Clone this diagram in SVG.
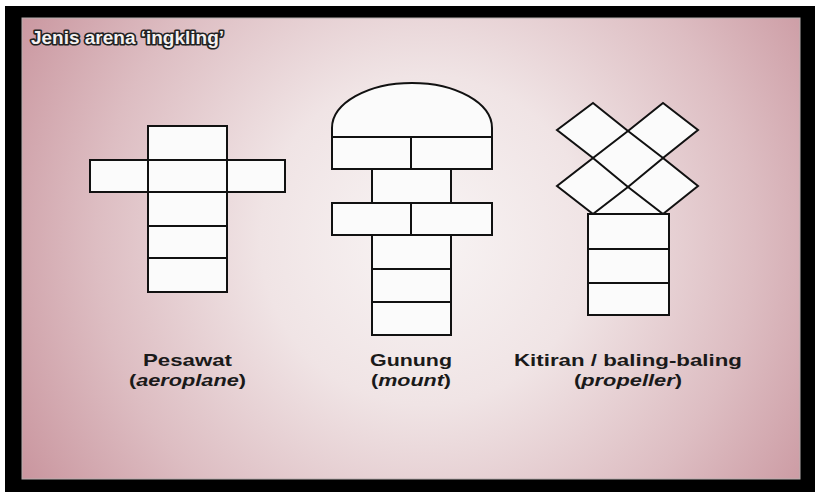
<svg xmlns="http://www.w3.org/2000/svg" width="815" height="492" viewBox="0 0 815 492">
<defs>
<radialGradient id="bg" gradientUnits="userSpaceOnUse" cx="425" cy="240" r="470">
<stop offset="0" stop-color="#f8f4f4"/>
<stop offset="0.35" stop-color="#f0e4e5"/>
<stop offset="0.7" stop-color="#ddbdc2"/>
<stop offset="1" stop-color="#c9959e"/>
</radialGradient>
</defs>
<style>
.c{fill:#fbfbfb;stroke:#111;stroke-width:2;stroke-linejoin:miter}
.l{fill:none;stroke:#111;stroke-width:2}
.lbl{font-family:"Liberation Sans",Arial,sans-serif;font-weight:bold;font-size:17px;fill:#1a1a1a;text-anchor:middle}
.it{font-style:italic}
.title{font-family:"Liberation Sans",Arial,sans-serif;font-weight:bold;font-size:18px;fill:#f4f0f0;stroke:#222;stroke-width:3.2;paint-order:stroke;stroke-linejoin:round}
</style>
<rect x="0" y="0" width="815" height="492" fill="#fff"/>
<rect x="5" y="6" width="810" height="486" fill="#000"/>
<rect x="22" y="18" width="778" height="461" fill="url(#bg)"/>
<rect x="22" y="18" width="778" height="461" fill="none" stroke="#b8b0b0" stroke-width="1"/>

<g id="title"><text class="title" x="31" y="44" textLength="193" lengthAdjust="spacingAndGlyphs">Jenis arena ‘ingkling’</text></g>

<g id="pesawat">
<rect class="c" x="148" y="126" width="79" height="166"/>
<rect class="c" x="90" y="160" width="195" height="32"/>
<line class="l" x1="148" y1="160" x2="148" y2="192"/>
<line class="l" x1="227" y1="160" x2="227" y2="192"/>
<line class="l" x1="148" y1="226" x2="227" y2="226"/>
<line class="l" x1="148" y1="258" x2="227" y2="258"/>
</g>

<g id="gunung">
<path class="c" d="M332,137 V128 A80,45 0 0 1 492,128 V137 Z"/>
<rect class="c" x="332" y="137" width="160" height="32"/>
<line class="l" x1="411" y1="137" x2="411" y2="169"/>
<rect class="c" x="372" y="169" width="79" height="34"/>
<rect class="c" x="332" y="203" width="160" height="32"/>
<line class="l" x1="411" y1="203" x2="411" y2="235"/>
<rect class="c" x="372" y="235" width="79" height="100"/>
<line class="l" x1="372" y1="269" x2="451" y2="269"/>
<line class="l" x1="372" y1="302" x2="451" y2="302"/>
</g>

<g id="kitiran">
<path d="M593,214 L628,187 L663,214 Z" fill="#fbfbfb"/>
<path class="c" d="M593,103 L628,131 L663,103 L698,130 L663,158 L698,186 L663,214 L628,187 L593,214 L557,186 L593,158 L557,130 Z"/>
<path class="l" d="M593,158 L628,131 L663,158 L628,187 Z"/>
<rect class="c" x="588" y="214" width="81" height="101"/>
<line class="l" x1="588" y1="249" x2="669" y2="249"/>
<line class="l" x1="588" y1="283" x2="669" y2="283"/>
</g>

<g id="labels">
<text class="lbl" x="187.5" y="366" textLength="89" lengthAdjust="spacingAndGlyphs">Pesawat</text>
<text class="lbl" x="187.5" y="386" textLength="117" lengthAdjust="spacingAndGlyphs">(<tspan class="it">aeroplane</tspan>)</text>
<text class="lbl" x="411" y="366" textLength="82" lengthAdjust="spacingAndGlyphs">Gunung</text>
<text class="lbl" x="411" y="386" textLength="80" lengthAdjust="spacingAndGlyphs">(<tspan class="it">mount</tspan>)</text>
<text class="lbl" x="628" y="366" textLength="228" lengthAdjust="spacingAndGlyphs">Kitiran / baling-baling</text>
<text class="lbl" x="628" y="386" textLength="108" lengthAdjust="spacingAndGlyphs">(<tspan class="it">propeller</tspan>)</text>
</g>
</svg>
